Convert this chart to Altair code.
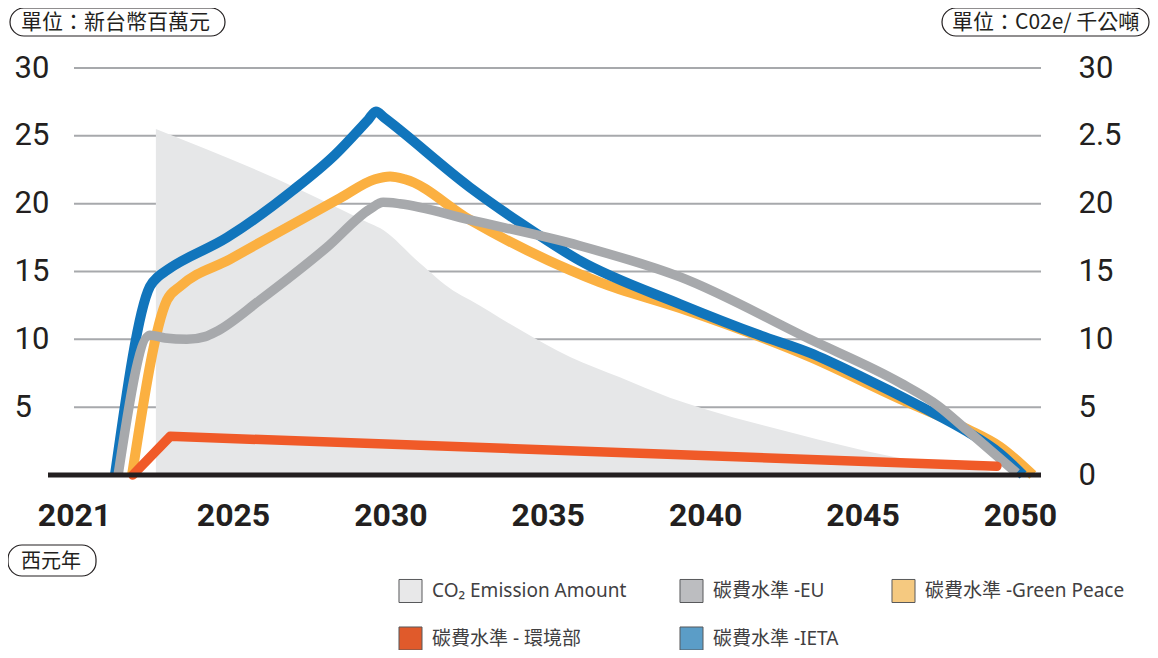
import altair as alt
import pandas as pd

# ---------------- data ----------------
co2_year = [2023.06, 2026.36, 2029.3, 2029.67, 2030.94, 2031.99, 2032.53, 2034.12, 2035.71, 2037.29,
            2038.88, 2039.93, 2042.79, 2045.97, 2049.05]
co2_val = [25.5, 21.85, 18.6, 18.2, 15.6, 13.6, 12.9, 10.7, 8.7, 7.2,
           5.7, 4.9, 3.1, 1.35, 0.25]

ieta_year = [2022.03, 2022.91, 2023.11, 2023.34, 2024.85, 2026.91, 2028.24, 2029.3, 2029.54, 2029.8,
             2032.53, 2034.12, 2036.02, 2039.2, 2041.74, 2043.33, 2044.92, 2046.89, 2048.32, 2049.36, 2050.1]
ieta_val = [0, 13.9, 14.6, 15.1, 17.5, 21.0, 23.6, 26.2, 26.8, 26.35,
            21.2, 18.6, 15.8, 12.6, 10.3, 9.0, 7.3, 5.0, 3.2, 1.6, 0]

gp_year = [2022.46, 2023.34, 2023.67, 2024.92, 2026.91, 2028.4, 2029.51, 2029.99, 2030.46, 2032.53,
           2035.71, 2036.66, 2039.2, 2043.33, 2046.19, 2048.32, 2049.36, 2050.41]
gp_val = [0, 12.9, 13.9, 15.9, 18.5, 20.4, 21.8, 22.0, 21.8, 18.8,
          15.1, 14.2, 12.3, 8.7, 5.6, 3.4, 2.1, 0]

eu_year = [2022.11, 2022.91, 2023.29, 2023.84, 2024.3, 2024.6, 2025.86, 2027.99, 2029.35, 2029.77,
           2030.3, 2032.53, 2036.02, 2039.2, 2043.33, 2046.19, 2047.4, 2048.32, 2049.9]
eu_val = [0, 10.3, 10.1, 10.0, 10.2, 10.6, 12.9, 16.8, 19.6, 20.1,
          20.0, 18.8, 16.9, 14.6, 10.0, 6.8, 5.1, 3.3, 0.15]

moe_year = [2022.48, 2023.42, 2049.27]
moe_val = [0, 2.85, 0.65]

x_ticks = [2021, 2025, 2030, 2035, 2040, 2045, 2050]
left_ticks = [5, 10, 15, 20, 25, 30]
right_ticks = [0, 5, 10, 15, 20, 25, 30]

legend_names = ["CO₂ Emission Amount", "碳費水準 -EU", "碳費水準 -Green Peace", "碳費水準 - 環境部", "碳費水準 -IETA"]
legend_colors = ["#e8e8e9", "#bcbdc0", "#f5c980", "#e05a2b", "#5b9dc7"]

unit_left = "單位：新台幣百萬元"
unit_right = "單位：C02e/ 千公噸"
unit_x = "西元年"

# ---------------- styling ----------------
W, H = 967, 407
CJK = "Noto Sans CJK TC"
DARK = "#231f20"

x_scale = alt.Scale(domain=[2021, 2025, 2050.67], range=[0, 159, W], nice=False, zero=False)
x_axis = alt.Axis(values=x_ticks, title=None, domain=False, ticks=False, tickSize=0, grid=False,
                  labelFont="Roboto", labelFontWeight="bold", labelFontSize=32, labelColor=DARK,
                  labelPadding=40, labelBaseline="middle", format="d", labelFlush=False, zindex=0)
y_dom = [0, 30]


def ydf(years, vals):
    return pd.DataFrame({"year": years, "value": vals})


def y_scale():
    return alt.Scale(domain=y_dom, nice=False, zero=True)


def y_enc(axis):
    return alt.Y("value:Q", scale=y_scale(), axis=axis)


left_axis = alt.Axis(values=left_ticks, title=None, orient="left", domain=False, ticks=False, tickSize=0,
                     grid=False, zindex=0,
                     labelFont="Roboto", labelFontSize=31, labelColor=DARK,
                     labelAlign="left", labelPadding=60, labelBaseline="middle")
right_axis = alt.Axis(values=right_ticks, title=None, orient="right", domain=False, ticks=False, tickSize=0,
                      grid=False, zindex=0, labelFont="Roboto", labelFontSize=31, labelColor=DARK,
                      labelAlign="left", labelPadding=37, labelBaseline="middle",
                      labelExpr="datum.value == 25 ? '2.5' : datum.label")

# horizontal grid lines, drawn underneath everything
grid = alt.Chart(pd.DataFrame({"v": left_ticks})).mark_rule(color="#a7a9ac", strokeWidth=2).encode(
    x=alt.value(0), x2=alt.value(W),
    y=alt.Y("v:Q", scale=y_scale(), axis=None))

area = alt.Chart(ydf(co2_year, co2_val)).mark_area(
    color="#e6e7e8", opacity=1, fillOpacity=1, interpolate="monotone"
).encode(x=alt.X("year:Q", scale=x_scale, axis=x_axis), y=y_enc(right_axis))


def line(years, vals, color, width, axis=None, cap="butt", interp="monotone"):
    return alt.Chart(ydf(years, vals)).mark_line(
        color=color, strokeWidth=width, strokeJoin="round", strokeCap=cap, interpolate=interp
    ).encode(x=alt.X("year:Q", scale=x_scale, axis=x_axis), y=y_enc(axis))


gp = line(gp_year, gp_val, "#fbb041", 10, axis=left_axis)
ieta = line(ieta_year, ieta_val, "#1175bc", 10)
eu = line(eu_year, eu_val, "#a7a9ac", 9.5)
moe = line(moe_year, moe_val, "#f05a28", 9.5, cap="round", interp="linear")

base_rule = alt.Chart(pd.DataFrame({"v": [0]})).mark_rule(color=DARK, strokeWidth=5).encode(
    x=alt.value(-26), x2=alt.value(W),
    y=alt.Y("v:Q", scale=y_scale(), axis=None))


def unit_box(text, x0, x1, y0, y1, tx, fs):
    d = pd.DataFrame({"t": [text]})
    box = alt.Chart(d).mark_rect(fill="white", stroke=DARK, strokeWidth=1.2, cornerRadius=14).encode(
        x=alt.value(x0), x2=alt.value(x1), y=alt.value(y0), y2=alt.value(y1))
    txt = alt.Chart(d).mark_text(font=CJK, fontSize=fs, color=DARK, align="left", baseline="middle").encode(
        x=alt.value(tx), y=alt.value((y0 + y1) / 2 + 1), text="t:N")
    return [box, txt]


boxes = (unit_box(unit_left, -64, 151, -60, -32, -53, 21)
         + unit_box(unit_right, 868, 1075, -60, -32, 878, 21)
         + unit_box(unit_x, -66, 22, 477, 508, -53, 20))

legend_layer = alt.Chart(pd.DataFrame({"name": legend_names})).mark_square(
    clip=True, size=530, filled=True, opacity=1, stroke="#58595b", strokeWidth=1
).encode(
    x=alt.value(-500), y=alt.value(-500),
    color=alt.Color("name:N", scale=alt.Scale(domain=legend_names, range=legend_colors),
                    legend=alt.Legend(orient="none", legendX=324, legendY=510, columns=3, gridAlign="each",
                                      direction="horizontal",
                                      columnPadding=50, rowPadding=19, symbolType="square", symbolSize=530,
                                      symbolStrokeColor="#58595b", symbolStrokeWidth=1, symbolOpacity=1,
                                      labelFont="Noto Sans, Noto Sans CJK TC", labelFontSize=19,
                                      labelColor="#414042", labelOffset=9, labelLimit=400,
                                      title=None, padding=0)))

chart = alt.layer(grid, area, gp, ieta, eu, moe, base_rule, *boxes, legend_layer).resolve_scale(
    y="independent"
).properties(
    width=W, height=H,
    autosize=alt.AutoSizeParams(type="none"),
    padding={"left": 66, "top": 60, "right": 109, "bottom": 175},
    background="white",
).configure_view(stroke=None)

chart.save("out.html", embed_options={"renderer": "svg", "actions": False})
